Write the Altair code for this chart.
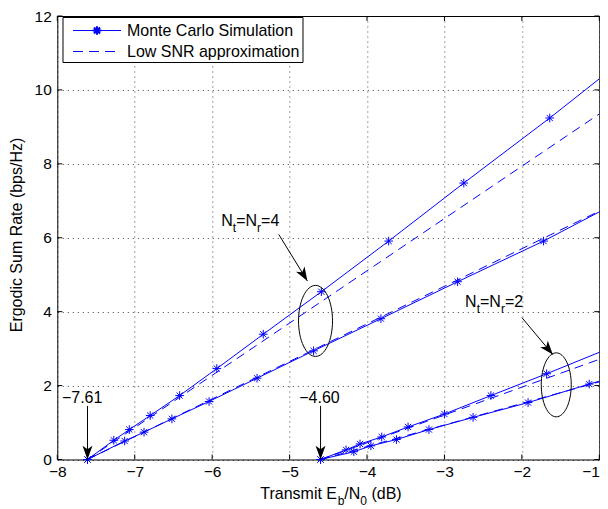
import altair as alt
import pandas as pd

FONT = "Liberation Sans"
BLUE = "#0000ff"

# ---------------- data ----------------
X_RIGHT = -1.0  # right edge of the frame, where the curves leave the plot

# Monte Carlo simulation, Nt = Nr = 4 (steeper curve)
mc4a_x = [-7.61, -7.27, -7.07, -6.80, -6.42, -5.94, -5.34, -4.59, -3.72, -2.75, -1.64]
mc4a_y = [0.00, 0.52, 0.81, 1.19, 1.73, 2.46, 3.39, 4.54, 5.91, 7.48, 9.24]
mc4a_edge = 10.30
# Monte Carlo simulation, Nt = Nr = 4 (flatter curve)
mc4b_x = [-7.61, -7.13, -6.88, -6.52, -6.04, -5.42, -4.69, -3.82, -2.83, -1.72]
mc4b_y = [0.00, 0.50, 0.74, 1.10, 1.57, 2.20, 2.94, 3.81, 4.81, 5.91]
mc4b_edge = 6.70
# Monte Carlo simulation, Nt = Nr = 2 (steeper curve)
mc2a_x = [-4.60, -4.27, -4.09, -3.81, -3.47, -3.00, -2.40, -1.68]
mc2a_y = [0.00, 0.26, 0.42, 0.61, 0.88, 1.23, 1.73, 2.32]
mc2a_edge = 2.90
# Monte Carlo simulation, Nt = Nr = 2 (flatter curve)
mc2b_x = [-4.60, -4.17, -3.95, -3.62, -3.20, -2.63, -1.92, -1.13]
mc2b_y = [0.00, 0.21, 0.37, 0.54, 0.81, 1.14, 1.54, 2.04]
mc2b_edge = 2.12

# Low SNR approximation: straight lines from the minimum Eb/N0 to the frame edge
apx_names = ["a4a", "a4b", "a2a", "a2b"]
apx_start = [-7.61, -7.61, -4.60, -4.60]
apx_edge = [9.35, 6.72, 2.71, 2.10]

x_ticks = [-8, -7, -6, -5, -4, -3, -2, -1]
y_ticks = [0, 2, 4, 6, 8, 10, 12]

legend_labels = ["Monte Carlo Simulation", "Low SNR approximation"]

# annotations (data coordinates)
arrow_x1 = [-7.61, -4.60, -5.14, -2.00]
arrow_y1 = [1.45, 1.45, 6.09, 3.84]
arrow_x2 = [-7.61, -4.60, -4.77, -1.60]
arrow_y2 = [0.00, 0.00, 4.83, 2.84]
arrow_ang = [0, 0, 329, 320]

# ---------------- layout ----------------
W, H = 542, 443.5
xscale = alt.Scale(domain=[-8, -1], nice=False, zero=False)
yscale = alt.Scale(domain=[0, 12], nice=False, zero=False)

xaxis = alt.Axis(values=x_ticks, format="d", title=None, grid=True, ticks=False, tickSize=0,
                 domain=False, labelPadding=5, labelFlush=False,
                 labelAlign=alt.condition("datum.value == -1", alt.value("right"), alt.value("center")))
yaxis = alt.Axis(values=y_ticks, format="d", title=None, grid=True, ticks=False, tickSize=0,
                 domain=False, labelPadding=6, labelFlush=False)


def X(f):
    return alt.X(f, type="quantitative", scale=xscale, axis=xaxis)


def Y(f):
    return alt.Y(f, type="quantitative", scale=yscale, axis=yaxis)


curves = [("mc4a", mc4a_x, mc4a_y, mc4a_edge), ("mc4b", mc4b_x, mc4b_y, mc4b_edge),
          ("mc2a", mc2a_x, mc2a_y, mc2a_edge), ("mc2b", mc2b_x, mc2b_y, mc2b_edge)]
rows = []
for name, xs, ys, edge in curves:
    for xv, yv in zip(xs, ys):
        rows.append({"curve": name, "x": xv, "y": yv, "marker": True})
    rows.append({"curve": name, "x": X_RIGHT, "y": edge, "marker": False})
mc = pd.DataFrame(rows)

arows = []
for n, s, e in zip(apx_names, apx_start, apx_edge):
    arows.append({"curve": n, "x": s, "y": 0.0})
    arows.append({"curve": n, "x": X_RIGHT, "y": e})
apx = pd.DataFrame(arows)

STAR = "M -1 0 L 1 0 M 0 -1 L 0 1 M -0.71 -0.71 L 0.71 0.71 M -0.71 0.71 L 0.71 -0.71"
HEAD = "M 0 0 L -0.36 -1 L 0 -0.74 L 0.36 -1 Z"

layers = []
layers.append(alt.Chart(mc).mark_line(color=BLUE, strokeWidth=1).encode(
    x=X("x"), y=Y("y"), detail="curve:N", order="x:Q"))
layers.append(alt.Chart(apx).mark_line(color=BLUE, strokeWidth=1, strokeDash=[9, 6]).encode(
    x=X("x"), y=Y("y"), detail="curve:N", order="x:Q"))
layers.append(alt.Chart(mc[mc["marker"]]).mark_point(
    shape=STAR, size=75, color=BLUE, filled=False, strokeWidth=1, opacity=1).encode(
    x=X("x"), y=Y("y")))

# inward ticks on all four sides
xt = pd.DataFrame({"v": x_ticks})
yt = pd.DataFrame({"v": y_ticks})
layers.append(alt.Chart(xt).mark_rule(color="black").encode(x=X("v"), y=alt.value(H), y2=alt.value(H - 5)))
layers.append(alt.Chart(xt).mark_rule(color="black").encode(x=X("v"), y=alt.value(0), y2=alt.value(5)))
layers.append(alt.Chart(yt).mark_rule(color="black").encode(y=Y("v"), x=alt.value(0), x2=alt.value(5)))
layers.append(alt.Chart(yt).mark_rule(color="black").encode(y=Y("v"), x=alt.value(W), x2=alt.value(W - 5)))

# arrows
arrows = pd.DataFrame({"x1": arrow_x1, "y1": arrow_y1, "x2": arrow_x2, "y2": arrow_y2, "ang": arrow_ang})
layers.append(alt.Chart(arrows).mark_rule(color="black", strokeWidth=1).encode(
    x=X("x1"), y=Y("y1"), x2="x2:Q", y2="y2:Q"))
layers.append(alt.Chart(arrows).mark_point(shape=HEAD, size=760, filled=True, color="black", opacity=1).encode(
    x=X("x2"), y=Y("y2"), angle=alt.Angle("ang:Q", scale=None)))


# ellipses
def ellipse_path(rx, n=64):
    import math
    pts = []
    for i in range(n):
        t = 2 * math.pi * i / n
        pts.append(f"{rx * math.cos(t):.4f} {math.sin(t):.4f}")
    return "M " + " L ".join(pts) + " Z"


for cx, cy, wpx, hpx in [(-4.665, 3.75, 34, 71), (-1.556, 2.02, 30, 64)]:
    layers.append(alt.Chart(pd.DataFrame({"x": [cx], "y": [cy]})).mark_point(
        shape=ellipse_path(wpx / hpx), size=hpx * hpx, filled=False, color="black",
        strokeWidth=1, opacity=1).encode(x=X("x"), y=Y("y")))

# simple labels
for txt, tx, ty in [("\u22127.61", -7.679, 1.53), ("\u22124.60", -4.614, 1.53)]:
    layers.append(alt.Chart(pd.DataFrame({"x": [tx], "y": [ty]})).mark_text(
        text=txt, font=FONT, fontSize=16, align="center", baseline="alphabetic", color="black").encode(
        x=X("x"), y=Y("y")))

# rich text with subscripts
AW = {'N': 722, 't': 278, '=': 584, 'r': 333, '4': 556, '2': 556, 'T': 611, 'a': 556, 'n': 556,
      's': 500, 'm': 833, 'i': 222, ' ': 278, 'E': 667, 'b': 556, '/': 278, '0': 556, '(': 333,
      'd': 556, 'B': 667, ')': 333}
MAIN, SUB, SUBDY = 16, 12, 6


def rich(segments, pos_data=None, pos_px=None):
    out = []
    dx = 0.0
    for s, sub in segments:
        fs = SUB if sub else MAIN
        lead = len(s) - len(s.lstrip(" "))
        dx += lead * AW[" "] * fs / 1000.0
        s = s.lstrip(" ")
        kw = dict(text=s, font=FONT, fontSize=fs, align="left", baseline="alphabetic", color="black")
        if pos_data is not None:
            ch = alt.Chart(pd.DataFrame({"x": [pos_data[0]], "y": [pos_data[1]]})).mark_text(
                dx=dx, dy=SUBDY if sub else 0, **kw).encode(x=X("x"), y=Y("y"))
        else:
            ch = alt.Chart(pd.DataFrame({"k": [0]})).mark_text(**kw).encode(
                x=alt.value(pos_px[0] + dx), y=alt.value(pos_px[1] + (SUBDY if sub else 0)))
        out.append(ch)
        dx += sum(AW[c] for c in s) * fs / 1000.0
    return out


nt4 = [("N", False), ("t", True), ("=N", False), ("r", True), ("=4", False)]
nt2 = [("N", False), ("t", True), ("=N", False), ("r", True), ("=2", False)]
layers += rich(nt4, pos_data=(-5.882, 6.33))
layers += rich(nt2, pos_data=(-2.733, 4.12))
xtitle = [("Transmit E", False), ("b", True), ("/N", False), ("0", True), (" (dB)", False)]
layers += rich(xtitle, pos_px=(203.0, 483.3))

# y title
layers.append(alt.Chart(pd.DataFrame({"k": [0]})).mark_text(
    text="Ergodic Sum Rate (bps/Hz)", font=FONT, fontSize=16, angle=270, align="center",
    baseline="middle", color="black").encode(x=alt.value(-40.5), y=alt.value(219)))

# legend
one = pd.DataFrame({"k": [0]})
LX0, LX1, LY0, LY1 = 5.7, 245.7, 1.5, 46.5
R1, R2 = 14.5, 35.5
layers.append(alt.Chart(one).mark_rect(fill="white", stroke="black", strokeWidth=1).encode(
    x=alt.value(LX0), x2=alt.value(LX1), y=alt.value(LY0), y2=alt.value(LY1)))
layers.append(alt.Chart(one).mark_rule(color=BLUE, strokeWidth=1).encode(
    x=alt.value(15.7), x2=alt.value(63.7), y=alt.value(R1)))
layers.append(alt.Chart(one).mark_point(shape=STAR, size=75, color=BLUE, filled=False, opacity=1).encode(
    x=alt.value(39.7), y=alt.value(R1)))
layers.append(alt.Chart(one).mark_rule(color=BLUE, strokeWidth=1, strokeDash=[10, 6]).encode(
    x=alt.value(15.7), x2=alt.value(63.7), y=alt.value(R2)))
for lab, ry in zip(legend_labels, [R1, R2]):
    layers.append(alt.Chart(one).mark_text(text=lab, font=FONT, fontSize=16, align="left",
                                           baseline="middle", color="black").encode(
        x=alt.value(69.7), y=alt.value(ry)))

chart = alt.layer(*layers).properties(
    width=W, height=H,
    padding={"left": 49.3, "top": 8, "right": 0.5, "bottom": 48},
    autosize=alt.AutoSizeParams(type="none"),
).configure_view(stroke="black", strokeWidth=1).configure_axis(
    labelFont=FONT, labelFontSize=15.5, labelColor="black",
    gridColor="black", gridOpacity=0.75, gridDash=[1, 4], gridWidth=1)

chart.save("out.html", embed_options={"renderer": "svg", "actions": False})
